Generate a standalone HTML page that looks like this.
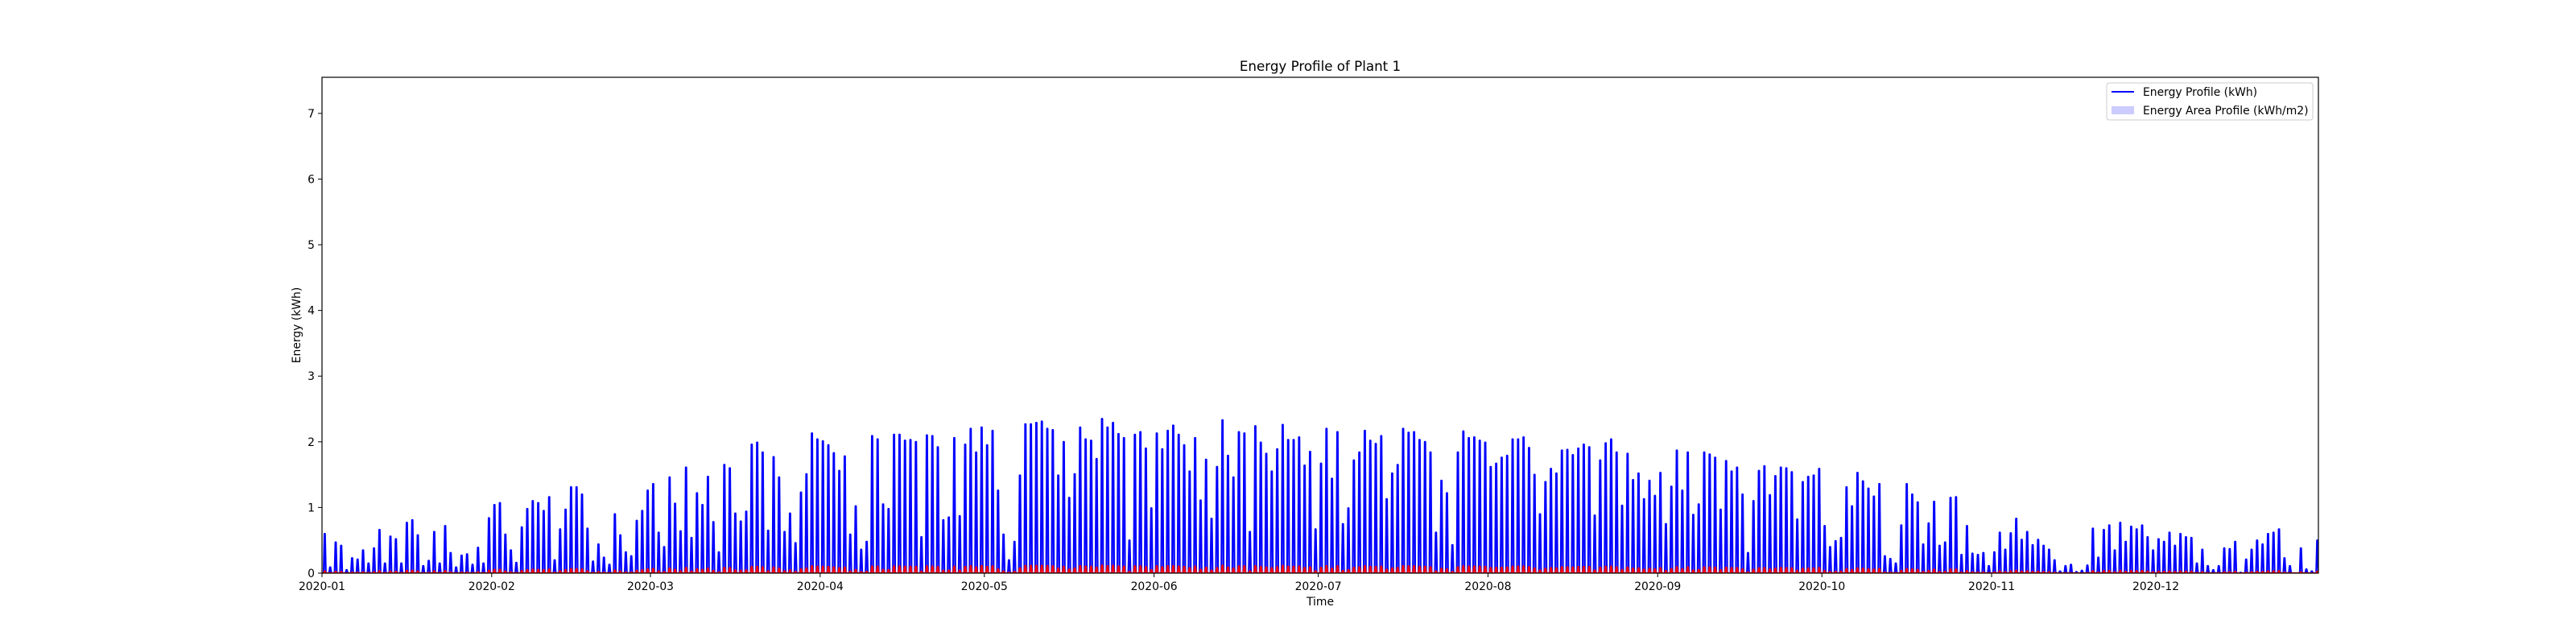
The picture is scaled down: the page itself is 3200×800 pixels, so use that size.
<!DOCTYPE html>
<html><head><meta charset="utf-8">
<style>
html,body{margin:0;padding:0;background:#fff;}
svg{display:block;font-family:"DejaVu Sans","Liberation Sans",sans-serif;}
</style></head>
<body>
<svg id="chart" width="3200" height="800" viewBox="0 0 3200 800" xmlns="http://www.w3.org/2000/svg">
<rect x="0" y="0" width="3200" height="800" fill="#fff"/>
<g id="marks"></g>
<g id="axes"></g>
<text x="1640" y="88" font-size="16.7" text-anchor="middle">Energy Profile of Plant 1</text>
<text x="1640" y="752" font-size="13.9" text-anchor="middle">Time</text>
<text x="0" y="0" font-size="13.9" text-anchor="middle" transform="translate(373,404) rotate(-90)">Energy (kWh)</text>
<g>
<rect x="2617" y="103" width="256" height="46" rx="3" fill="#fff" fill-opacity="0.8" stroke="#ccc" stroke-width="1"/>
<line x1="2623" y1="114" x2="2651" y2="114" stroke="#0000ff" stroke-width="2"/>
<text x="2662" y="119" font-size="13.9">Energy Profile (kWh)</text>
<rect x="2623" y="132" width="28" height="10" fill="#0000ff" fill-opacity="0.2"/>
<text x="2662" y="142" font-size="13.9">Energy Area Profile (kWh/m2)</text>
</g>
</svg>
<script>
const dailyEnergy = [
0.60,0.09,0.47,0.42,0.05,0.23,0.21,0.35,0.15,0.38,0.66,0.15,0.56,0.52,0.15,0.77,0.81,0.58,0.11,0.19,0.63,0.15,0.72,0.31,0.09,0.27,0.29,0.13,0.39,0.15,0.84,
1.04,1.07,0.59,0.35,0.16,0.70,0.98,1.10,1.07,0.95,1.16,0.20,0.67,0.97,1.31,1.31,1.20,0.68,0.18,0.44,0.24,0.13,0.90,0.58,0.32,0.26,0.80,0.95,1.26,
1.36,0.62,0.40,1.46,1.06,0.64,1.61,0.54,1.22,1.04,1.47,0.78,0.32,1.65,1.60,0.91,0.79,0.94,1.96,1.99,1.84,0.65,1.77,1.46,0.63,0.91,0.46,1.23,1.51,2.13,2.04,
2.01,1.95,1.83,1.56,1.78,0.59,1.02,0.36,0.48,2.09,2.04,1.05,0.98,2.11,2.11,2.02,2.03,2.00,0.55,2.10,2.09,1.92,0.81,0.85,2.06,0.87,1.96,2.20,1.84,2.22,
1.95,2.17,1.26,0.59,0.20,0.48,1.49,2.27,2.27,2.29,2.31,2.20,2.18,1.49,2.00,1.15,1.51,2.22,2.04,2.02,1.74,2.35,2.22,2.29,2.12,2.06,0.50,2.11,2.15,1.90,0.99,
2.13,1.89,2.17,2.25,2.11,1.95,1.55,2.06,1.11,1.73,0.83,1.62,2.33,1.79,1.46,2.15,2.13,0.63,2.24,1.99,1.82,1.55,1.89,2.26,2.03,2.03,2.07,1.64,1.85,0.67,
1.67,2.20,1.44,2.15,0.75,0.99,1.72,1.84,2.17,2.02,1.97,2.09,1.13,1.52,1.65,2.20,2.14,2.15,2.03,2.00,1.84,0.62,1.41,1.22,0.43,1.84,2.16,2.06,2.07,2.02,1.99,
1.62,1.67,1.76,1.79,2.04,2.04,2.07,1.91,1.50,0.90,1.39,1.59,1.52,1.87,1.88,1.80,1.90,1.96,1.92,0.88,1.72,1.98,2.04,1.84,1.03,1.82,1.42,1.52,1.13,1.41,1.18,
1.53,0.75,1.32,1.87,1.26,1.84,0.89,1.05,1.84,1.81,1.76,0.97,1.71,1.55,1.61,1.20,0.31,1.10,1.56,1.63,1.19,1.48,1.61,1.60,1.54,0.82,1.39,1.47,1.49,1.59,
0.72,0.40,0.49,0.54,1.31,1.02,1.53,1.40,1.29,1.17,1.36,0.26,0.22,0.15,0.73,1.36,1.20,1.08,0.44,0.76,1.09,0.42,0.47,1.15,1.16,0.28,0.72,0.30,0.28,0.31,0.11,
0.32,0.62,0.36,0.61,0.83,0.51,0.63,0.43,0.51,0.42,0.36,0.20,0.03,0.11,0.13,0.02,0.04,0.12,0.68,0.24,0.66,0.73,0.35,0.77,0.48,0.71,0.67,0.73,0.55,0.35,
0.52,0.48,0.62,0.42,0.60,0.55,0.54,0.15,0.36,0.11,0.05,0.11,0.38,0.37,0.48,0.01,0.21,0.36,0.50,0.44,0.60,0.62,0.67,0.23,0.11,0.00,0.38,0.06,0.03,0.50
];
const panelArea = [20];
const yTicks = [0,1,2,3,4,5,6,7];
const monthLabels = ["2020-01","2020-02","2020-03","2020-04","2020-05","2020-06","2020-07","2020-08","2020-09","2020-10","2020-11","2020-12"];
const monthStartDay = [0,31,60,91,121,152,182,213,244,274,305,335];

const L=400,R=2880,T=96,B=712,XMAX=364.7,YMAX=7.55;
const NS="http://www.w3.org/2000/svg";
function xs(d){return L+(d/XMAX)*(R-L);}
function ys(v){return B-(v/YMAX)*(B-T);}
const marks=document.getElementById('marks');
const axes=document.getElementById('axes');
function mk(tag,attrs,parent){const e=document.createElementNS(NS,tag);for(const k in attrs)e.setAttribute(k,attrs[k]);parent.appendChild(e);return e;}

let fillD="",lineD="M"+xs(0)+","+ys(0),redD="M"+xs(0)+","+ys(0);
dailyEnergy.forEach((v,i)=>{
  const a=xs(i+0.3),b=xs(i+0.45),c=xs(i+0.55),d=xs(i+0.7);
  fillD+="M"+a+","+ys(0)+"L"+b+","+ys(v)+"L"+c+","+ys(v)+"L"+d+","+ys(0)+"Z";
  lineD+="L"+a+","+ys(0)+"L"+b+","+ys(v)+"L"+c+","+ys(v)+"L"+d+","+ys(0);
  const r=v/panelArea[0];
  redD+="L"+a+","+ys(0)+"L"+b+","+ys(r)+"L"+c+","+ys(r)+"L"+d+","+ys(0);
});
lineD+="L"+xs(XMAX)+","+ys(0);
redD+="L"+xs(XMAX)+","+ys(0);
const clip=mk('clipPath',{id:'pc'},marks);
mk('rect',{x:L,y:T,width:R-L,height:B-T},clip);
const g=mk('g',{'clip-path':'url(#pc)'},marks);
const f=mk('path',{d:fillD,fill:'#0000ff','fill-opacity':'0.2',stroke:'none'},g);


const ln=mk('path',{d:lineD,fill:'none',stroke:'#0000ff','stroke-width':'2.2','stroke-linejoin':'round'},g);


const rd=mk('path',{d:redD,fill:'none',stroke:'#ff0000','stroke-width':'2'},g);



const fr=mk('rect',{x:L,y:T,width:R-L,height:B-T,fill:'none',stroke:'#000','stroke-width':'1.2'},axes);


yTicks.forEach(t=>{
  const y=ys(t);
  const tk=mk('line',{x1:L-5,y1:y,x2:L,y2:y,stroke:'#000','stroke-width':'1'},axes);
  
  
  const tx=mk('text',{x:L-9,y:y+5,'font-size':'13.9','text-anchor':'end'},axes);
  tx.textContent=t;
  
  
});
monthLabels.forEach((m,i)=>{
  const x=xs(monthStartDay[i]);
  const tk=mk('line',{x1:x,y1:B,x2:x,y2:B+5,stroke:'#000','stroke-width':'1'},axes);
  
  
  const tx=mk('text',{x:x,y:B+21,'font-size':'13.9','text-anchor':'middle'},axes);
  tx.textContent=m;
  
  
});
</script>
</body></html>
